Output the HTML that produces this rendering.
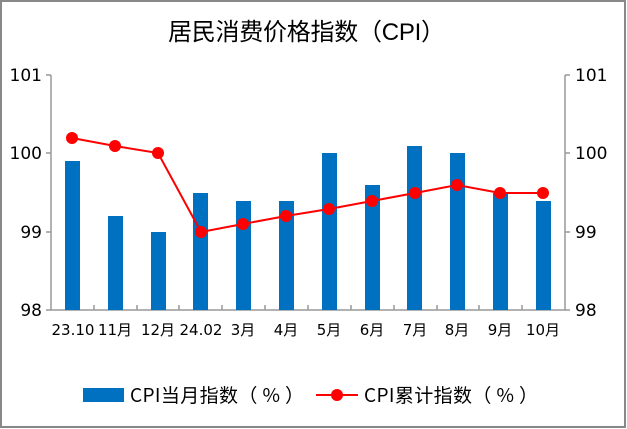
<!DOCTYPE html><html><head><meta charset="utf-8"><style>body{margin:0;background:#fff}svg{display:block}text{font-family:"DejaVu Sans","Noto Sans CJK SC",sans-serif;fill:#000}</style></head><body>
<svg width="627" height="429" viewBox="0 0 627 429">
<rect x="1" y="1" width="624" height="426" fill="#fff" stroke="#888" stroke-width="2"/>
<text x="168" y="40" font-size="24" style="font-family:'WenQuanYi Zen Hei',sans-serif" textLength="277">居民消费价格指数（CPI）</text>
<g stroke="#999" stroke-width="1.5" fill="none">
<path d="M51,75V310H565V75"/>
<path d="M51,75h-5M51,153h-5M51,232h-5M51,310h-5M565,75h5M565,153h5M565,232h5M565,310h5"/>
<path d="M94,310v-5M137,310v-5M179,310v-5M222,310v-5M265,310v-5M308,310v-5M351,310v-5M394,310v-5M437,310v-5M479,310v-5M522,310v-5"/>
</g>
<g font-size="17" text-anchor="end"><text x="42" y="81">101</text><text x="42" y="159">100</text><text x="42" y="238">99</text><text x="42" y="316">98</text></g>
<g font-size="17" text-anchor="start"><text x="575" y="81">101</text><text x="575" y="159">100</text><text x="575" y="238">99</text><text x="575" y="316">98</text></g>
<g fill="#0070c0">
<rect x="65" y="161" width="15" height="149"/><rect x="108" y="216" width="15" height="94"/><rect x="151" y="232" width="15" height="78"/><rect x="193" y="193" width="15" height="117"/><rect x="236" y="201" width="15" height="109"/><rect x="279" y="201" width="15" height="109"/><rect x="322" y="153" width="15" height="157"/><rect x="365" y="185" width="15" height="125"/><rect x="407" y="146" width="15" height="164"/><rect x="450" y="153" width="15" height="157"/><rect x="493" y="193" width="15" height="117"/><rect x="536" y="201" width="15" height="109"/>
</g>
<polyline fill="none" stroke="#f00" stroke-width="2" points="72,138 115,146 158,153 201,232 243,224 286,216 329,209 372,201 415,193 457,185 500,193 543,193"/>
<g fill="#f00"><circle cx="72" cy="138" r="6"/><circle cx="115" cy="146" r="6"/><circle cx="158" cy="153" r="6"/><circle cx="201" cy="232" r="6"/><circle cx="243" cy="224" r="6"/><circle cx="286" cy="216" r="6"/><circle cx="329" cy="209" r="6"/><circle cx="372" cy="201" r="6"/><circle cx="415" cy="193" r="6"/><circle cx="457" cy="185" r="6"/><circle cx="500" cy="193" r="6"/><circle cx="543" cy="193" r="6"/></g>
<g font-size="15" text-anchor="middle"><text x="73" y="335">23.10</text><text x="115" y="335">11月</text><text x="158" y="335">12月</text><text x="201" y="335">24.02</text><text x="243" y="335">3月</text><text x="286" y="335">4月</text><text x="329" y="335">5月</text><text x="372" y="335">6月</text><text x="415" y="335">7月</text><text x="457" y="335">8月</text><text x="500" y="335">9月</text><text x="543" y="335">10月</text></g>
<rect x="83" y="388" width="41" height="14" fill="#0070c0"/>
<text x="130" y="402" font-size="19" style="font-family:'Noto Sans CJK SC',sans-serif" textLength="174">CPI当月指数（ % ）</text>
<line x1="316" y1="395" x2="358" y2="395" stroke="#f00" stroke-width="2"/><circle cx="337" cy="395" r="6" fill="#f00"/>
<text x="364" y="402" font-size="19" style="font-family:'Noto Sans CJK SC',sans-serif" textLength="174">CPI累计指数（ % ）</text>
</svg></body></html>
